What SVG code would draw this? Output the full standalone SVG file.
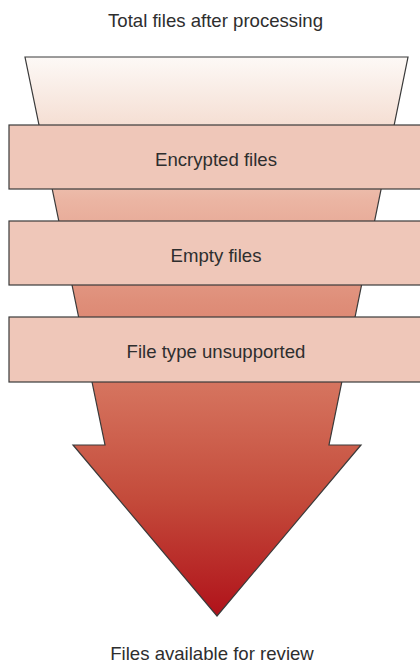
<svg xmlns="http://www.w3.org/2000/svg" width="420" height="665" viewBox="0 0 420 665">
  <style>
    .lbl { font-family: "Liberation Sans", Arial, Helvetica, sans-serif; font-size: 18.6px; fill: #2e2e2e; text-anchor: middle; }
    .band { fill: #efc7b9; stroke: #3a3a3a; stroke-width: 1.2; }
    .funnel { fill: url(#funnelGrad); stroke: #3a3a3a; stroke-width: 1.2; stroke-linejoin: miter; }
  </style>
  <defs>
    <linearGradient id="funnelGrad" gradientUnits="userSpaceOnUse" x1="0" y1="57" x2="0" y2="616">
      <stop offset="0" stop-color="#fdf9f6"/>
      <stop offset="0.12" stop-color="#f5dfd4"/>
      <stop offset="0.256" stop-color="#ebb5a3"/>
      <stop offset="0.435" stop-color="#df8f7a"/>
      <stop offset="0.605" stop-color="#d4705b"/>
      <stop offset="0.79" stop-color="#c44b3b"/>
      <stop offset="1" stop-color="#b0121a"/>
    </linearGradient>
  </defs>

  <rect width="420" height="665" fill="#ffffff"/>

  <!-- funnel body narrowing into a down arrow -->
  <g id="funnel">
    <path class="funnel" d="M25,57 L408,57 L329,445 L361,445 L217,616 L73,445 L105,445 Z"/>
  </g>

  <g id="title-top">
    <text class="lbl" x="215.5" y="26.7">Total files after processing</text>
  </g>

  <g id="band-encrypted">
    <rect class="band" x="9" y="125" width="420" height="64"/>
    <text class="lbl" x="216" y="165.7">Encrypted files</text>
  </g>

  <g id="band-empty">
    <rect class="band" x="9" y="221" width="420" height="64"/>
    <text class="lbl" x="216" y="261.7">Empty files</text>
  </g>

  <g id="band-unsupported">
    <rect class="band" x="9" y="317" width="420" height="65"/>
    <text class="lbl" x="216" y="357.7">File type unsupported</text>
  </g>

  <g id="title-bottom">
    <text class="lbl" x="212" y="660">Files available for review</text>
  </g>
</svg>
